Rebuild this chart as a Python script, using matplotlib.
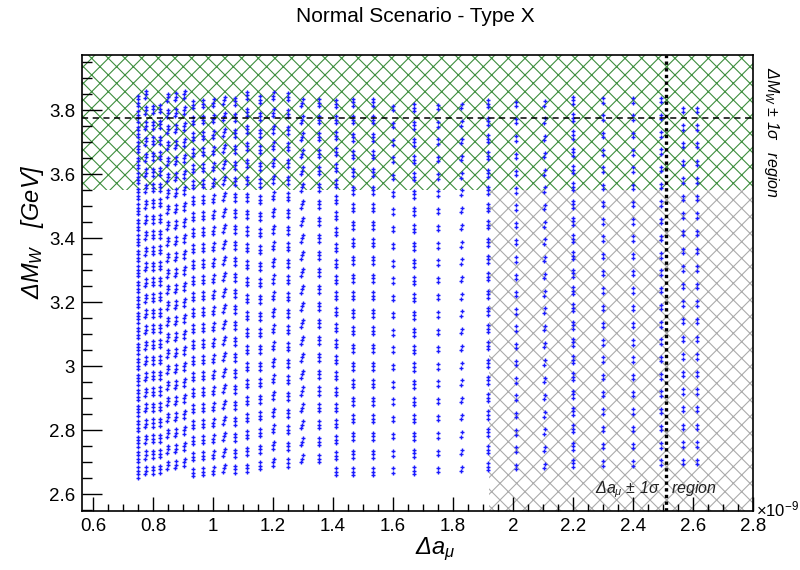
import numpy as np
import matplotlib
matplotlib.use("Agg")
import matplotlib.pyplot as plt
from matplotlib.ticker import MultipleLocator, FuncFormatter

plt.rcParams['font.family'] = ['Liberation Sans', 'DejaVu Sans']
plt.rcParams['mathtext.fontset'] = 'custom'
plt.rcParams['mathtext.rm'] = 'Liberation Sans'
plt.rcParams['mathtext.it'] = 'Liberation Sans:italic'
plt.rcParams['hatch.linewidth'] = 0.8

# scan columns (x in units of 1e-9)
col_x = [0.751, 0.775, 0.801, 0.823, 0.849, 0.875, 0.904, 0.934, 0.967, 1.001,
         1.037, 1.073, 1.114, 1.156, 1.201, 1.249, 1.297, 1.353, 1.409, 1.467,
         1.534, 1.601, 1.670, 1.749, 1.829, 1.916, 2.009, 2.104, 2.201, 2.301,
         2.401, 2.493, 2.565, 2.612]
col_ymin = [2.667, 2.673, 2.675, 2.677, 2.690, 2.692, 2.700, 2.667, 2.670, 2.673,
            2.680, 2.678, 2.680, 2.688, 2.700, 2.697, 2.710, 2.710, 2.670, 2.670,
            2.670, 2.673, 2.673, 2.675, 2.678, 2.685, 2.685, 2.687, 2.696, 2.696,
            2.696, 2.698, 2.700, 2.700]
col_ymax = [3.850] * 25 + [3.845] * 7 + [3.825, 3.825]
col_step = [0.0484, 0.049, 0.049, 0.049, 0.050, 0.050, 0.050, 0.050, 0.050, 0.050,
            0.050, 0.050, 0.053, 0.052, 0.052, 0.052, 0.053, 0.053, 0.050, 0.055,
            0.055, 0.054, 0.054, 0.054, 0.054, 0.054, 0.054, 0.054, 0.054, 0.054,
            0.054, 0.054, 0.055, 0.055]
col_npts = [4, 3, 3, 3, 3, 3, 3, 3, 3, 3, 3, 3, 3, 3, 3, 3, 3, 3, 3, 3,
            3, 2, 3, 2, 2, 3, 2, 2, 3, 2, 2, 2, 2, 2]
col_slant = [0, 0.2, 0, 0, 0.2, 0.2, 0.2, 0, 0, 0.2, 0.25, 0, 0, 0, 0.25, 0, 0.3, 0,
             0, 0, 0, 0, 0, 0, 0.35, 0, 0, 0.25, 0, 0, 0, 0, 0, 0]
cluster_offsets = {2: [-0.007, 0.007], 3: [-0.011, 0.0, 0.011],
                   4: [-0.016, -0.0055, 0.0055, 0.016]}

mw_band = (3.55, 3.97)      # Delta M_W +- 1 sigma
mw_central = 3.775
amu_low = 1.92              # Delta a_mu +- 1 sigma
amu_central = 2.51

xs, ys = [], []
for x, y0, y1, st, n, sl in zip(col_x, col_ymin, col_ymax, col_step, col_npts, col_slant):
    y = y0
    while y <= y1 + 1e-6:
        for d in cluster_offsets[n]:
            xs.append(x + sl * d)
            ys.append(y + d)
        y += st

xmin, xmax = 0.563, 2.8
ymin, ymax = 2.547, 3.972

fig = plt.figure(figsize=(8, 5.7), dpi=100)
ax = fig.add_axes([0.1025, 0.1035, 0.83875, 0.8])

green = '#3e8e3e'
ax.fill_between([xmin, xmax], mw_band[0], ymax, hatch='xx', facecolor='none',
                edgecolor=green, linewidth=0, zorder=1)
ax.fill_between([amu_low, xmax], ymin, mw_band[0], hatch='xx', facecolor='none',
                edgecolor='#ababab', linewidth=0, zorder=1)

ax.scatter(xs, ys, marker='+', s=9, linewidths=1.0, color='#1a1aff', zorder=2)

ax.axhline(mw_central, color='k', lw=1.1, ls=(0, (4, 3)), zorder=3)
ax.axvline(amu_central, color='k', lw=2.4, ls=(0, (1, 1)), zorder=3)

ax.set_xlim(xmin, xmax)
ax.set_ylim(ymin, ymax)
ax.xaxis.set_major_locator(MultipleLocator(0.2))
ax.xaxis.set_minor_locator(MultipleLocator(0.05))
ax.yaxis.set_major_locator(MultipleLocator(0.2))
ax.yaxis.set_minor_locator(MultipleLocator(0.05))
fmt = FuncFormatter(lambda v, p: '%g' % round(v, 2))
ax.xaxis.set_major_formatter(fmt)
ax.yaxis.set_major_formatter(fmt)
ax.tick_params(axis='x', which='major', direction='in', length=10, width=1, labelsize=13.5, pad=5)
ax.tick_params(axis='x', which='minor', direction='in', length=5, width=1)
ax.tick_params(axis='y', which='major', direction='in', length=14.5, width=1, labelsize=13.5, pad=5)
ax.tick_params(axis='y', which='minor', direction='in', length=7, width=1)
for s in ax.spines.values():
    s.set_linewidth(1.2)

fig.text(415 / 800, 1 - 17 / 570, 'Normal Scenario - Type X', ha='center', va='center', fontsize=15)
fig.text(435 / 800, 1 - 549 / 570, r'Δ$a_{\mu}$', ha='center', va='center',
         fontsize=17, style='italic')
fig.text(33 / 800, 1 - 232 / 570, r'Δ$M_W$   [GeV]', ha='center', va='center',
         fontsize=17, style='italic', rotation=90)
fig.text(756 / 800, 1 - 509 / 570, r'$\times$10$^{-9}$', ha='left', va='center', fontsize=12)
fig.text(771 / 800, 1 - 132 / 570, r'Δ$M_W$ ± 1σ   region', ha='center', va='center',
         fontsize=11.5, style='italic', rotation=-90)
ax.text(2.273, 2.603, r'Δ$a_{\mu}$ ± 1σ   region', fontsize=11.5,
        style='italic', color='#222222', ha='left', va='baseline', zorder=4)

fig.savefig('out.png', dpi=100)
